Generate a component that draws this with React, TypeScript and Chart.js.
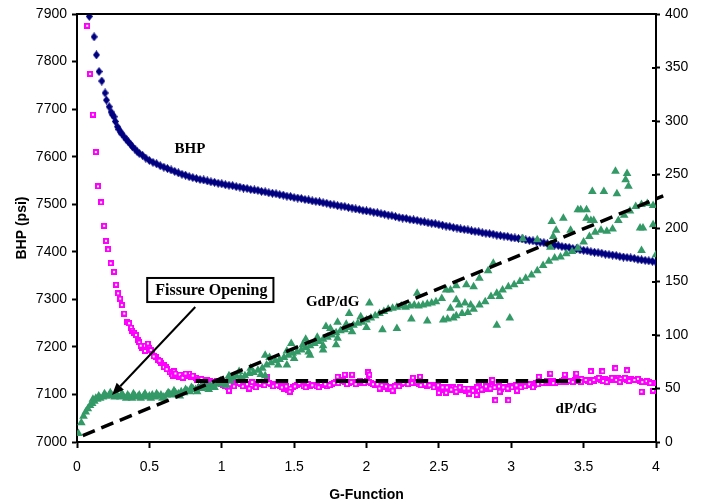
import React, { useEffect, useRef } from 'react';
import { Chart, registerables } from 'chart.js';
Chart.register(...registerables);

const xTickValues = [0, 0.5, 1, 1.5, 2, 2.5, 3, 3.5, 4];
const xTickLabels = ['0', '0.5', '1', '1.5', '2', '2.5', '3', '3.5', '4'];
const bhpTickValues = [7000, 7100, 7200, 7300, 7400, 7500, 7600, 7700, 7800, 7900];
const bhpTickLabels = ['7000', '7100', '7200', '7300', '7400', '7500', '7600', '7700', '7800', '7900'];
const rightTickValues = [0, 50, 100, 150, 200, 250, 300, 350, 400];
const rightTickLabels = ['0', '50', '100', '150', '200', '250', '300', '350', '400'];

// BHP (psi), left axis
const bhpG = [
  0.085, 0.118, 0.134, 0.152, 0.171, 0.194, 0.203, 0.222, 0.235, 0.245,
  0.256, 0.265, 0.279, 0.29, 0.3, 0.31, 0.325, 0.34, 0.355, 0.37,
  0.383, 0.4, 0.415, 0.43, 0.452, 0.475,
  0.5, 0.525, 0.55, 0.575, 0.6, 0.625, 0.65, 0.675, 0.7, 0.725,
  0.75, 0.775, 0.8, 0.825, 0.85, 0.875, 0.9, 0.925, 0.95, 0.975,
  1.0, 1.025, 1.05, 1.075, 1.1, 1.125, 1.15, 1.175, 1.2, 1.225,
  1.25, 1.275, 1.3, 1.325, 1.35, 1.375, 1.4, 1.425, 1.45, 1.475,
  1.5, 1.525, 1.55, 1.575, 1.6, 1.625, 1.65, 1.675, 1.7, 1.725,
  1.75, 1.775, 1.8, 1.825, 1.85, 1.875, 1.9, 1.925, 1.95, 1.975,
  2.0, 2.025, 2.05, 2.075, 2.1, 2.125, 2.15, 2.175, 2.2, 2.225,
  2.25, 2.275, 2.3, 2.325, 2.35, 2.375, 2.4, 2.425, 2.45, 2.475,
  2.5, 2.525, 2.55, 2.575, 2.6, 2.625, 2.65, 2.675, 2.7, 2.725,
  2.75, 2.775, 2.8, 2.825, 2.85, 2.875, 2.9, 2.925, 2.95, 2.975,
  3.0, 3.025, 3.05, 3.075, 3.1, 3.125, 3.15, 3.175, 3.2, 3.225,
  3.25, 3.275, 3.3, 3.325, 3.35, 3.375, 3.4, 3.425, 3.45, 3.475,
  3.5, 3.525, 3.55, 3.575, 3.6, 3.625, 3.65, 3.675, 3.7, 3.725,
  3.75, 3.775, 3.8, 3.825, 3.85, 3.875, 3.9, 3.925, 3.95, 3.975, 4.0,
];
const bhpP = [
  7895, 7852, 7814, 7779, 7759, 7734, 7719, 7705, 7694, 7688,
  7684, 7674, 7663, 7657, 7652, 7648, 7642, 7636, 7631, 7626,
  7621, 7616, 7611, 7607, 7603, 7597,
  7592, 7588, 7585, 7581, 7578, 7575, 7572, 7569, 7566, 7563,
  7561, 7558, 7556, 7554, 7552, 7551, 7549, 7547, 7546, 7544,
  7543, 7541, 7540, 7539, 7537, 7536, 7534, 7533, 7531, 7530,
  7529, 7527, 7526, 7524, 7523, 7522, 7520, 7519, 7517, 7516,
  7514, 7513, 7512, 7510, 7509, 7507, 7506, 7505, 7503, 7502,
  7500, 7499, 7497, 7496, 7495, 7493, 7492, 7490, 7489, 7487,
  7486, 7485, 7483, 7482, 7480, 7479, 7477, 7476, 7474, 7472,
  7471, 7470, 7468, 7467, 7466, 7464, 7463, 7461, 7460, 7459,
  7457, 7456, 7454, 7453, 7451, 7450, 7448, 7447, 7446, 7444,
  7443, 7442, 7440, 7439, 7438, 7437, 7435, 7434, 7433, 7432,
  7430, 7429, 7428, 7427, 7425, 7424, 7423, 7421, 7420, 7419,
  7417, 7416, 7414, 7413, 7411, 7410, 7409, 7407, 7406, 7404,
  7403, 7402, 7400, 7399, 7398, 7397, 7395, 7394, 7393, 7392,
  7390, 7389, 7388, 7387, 7386, 7384, 7383, 7382, 7381, 7380, 7378,
];

// dP/dG, right axis
const dpdgG = [
  0.07, 0.09, 0.11, 0.13, 0.145, 0.166, 0.187, 0.2, 0.215, 0.233,
  0.256, 0.27, 0.284, 0.298, 0.31, 0.326, 0.346, 0.36, 0.374, 0.38,
  0.395, 0.408, 0.42, 0.43, 0.45, 0.465, 0.476, 0.49, 0.5, 0.52,
  0.545, 0.56, 0.58, 0.6, 0.614, 0.64, 0.655, 0.67, 0.69, 0.705,
  0.72, 0.74, 0.76, 0.775, 0.79, 0.82, 0.845, 0.87, 0.89,
  0.44, 0.47, 0.51, 0.53, 0.57, 0.6, 0.62, 0.66, 0.68, 0.71,
  0.73, 0.75, 0.8, 0.83, 0.86, 0.88, 0.9,
  0.92, 0.95, 0.98, 1.01, 1.04, 1.07, 1.1, 1.13, 1.16, 1.19,
  1.22, 1.25, 1.28, 1.31, 1.34, 1.37, 1.4, 1.43, 1.46, 1.49,
  1.52, 1.55, 1.58, 1.61, 1.64, 1.67, 1.7, 1.73, 1.76, 1.79,
  1.82, 1.85, 1.88, 1.91, 1.94, 1.97, 2.0, 2.03, 2.06, 2.09,
  2.12, 2.15, 2.18, 2.21, 2.24, 2.27, 2.3, 2.33, 2.36, 2.39,
  2.42, 2.45, 2.48, 2.51, 2.54, 2.57, 2.6, 2.63, 2.66, 2.69,
  2.72, 2.75, 2.78, 2.81, 2.84, 2.87, 2.9, 2.93, 2.96, 2.99,
  3.02, 3.05, 3.08, 3.11, 3.14, 3.17, 3.2, 3.23, 3.26, 3.29,
  3.32, 3.35, 3.38, 3.41, 3.44, 3.47, 3.5, 3.53, 3.56, 3.59,
  3.62, 3.65, 3.68, 3.71, 3.74, 3.77, 3.8, 3.83, 3.86, 3.89,
  3.92, 3.95, 3.98,
  0.935, 0.965, 0.995, 1.025, 1.055, 1.085, 1.115, 1.145, 1.175, 1.205,
  1.235, 1.265, 1.295, 1.325, 1.355, 1.385, 1.415, 1.445, 1.475, 1.505,
  1.535, 1.565, 1.595, 1.625, 1.655, 1.685, 1.715, 1.745, 1.775, 1.805,
  1.835, 1.865, 1.895, 1.925, 1.955, 1.985, 2.015, 2.045, 2.075, 2.105,
  2.135, 2.165, 2.195, 2.225, 2.255, 2.285, 2.315, 2.345, 2.375, 2.405,
  2.435, 2.465, 2.495, 2.525, 2.555, 2.585, 2.615, 2.645, 2.675, 2.705,
  2.735, 2.765, 2.795, 2.825, 2.855, 2.885, 2.915, 2.945, 2.975, 3.005,
  3.035, 3.065, 3.095, 3.125, 3.155, 3.185, 3.215, 3.245, 3.275, 3.305,
  3.335, 3.365, 3.395, 3.425, 3.455, 3.485, 3.515, 3.545, 3.575, 3.605,
  3.635, 3.665, 3.695, 3.725, 3.755, 3.785, 3.815, 3.845, 3.875, 3.905,
  3.935, 3.965,
  0.85, 1.05, 1.12, 1.19, 1.21, 1.31, 1.38, 1.47, 1.58, 1.67,
  1.8, 1.85, 1.9, 2.01, 2.02, 2.09, 2.18, 2.32, 2.37, 2.5,
  2.55, 2.62, 2.71, 2.76, 2.78, 2.87, 2.89, 2.92, 2.98, 3.04,
  3.15, 3.19, 3.27, 3.29, 3.37, 3.45, 3.48, 3.55, 3.57, 3.63,
  3.66, 3.72, 3.75, 3.8, 3.85, 3.9, 3.96, 3.98,
];
const dpdgV = [
  389, 344, 306, 271, 239, 224, 202, 188, 180, 167,
  159, 147, 139, 134, 128, 120, 112, 111, 107, 104,
  102, 100, 95, 93, 88, 90, 86, 92, 88, 84,
  79, 77, 74, 72, 70, 65, 64, 66, 62, 61,
  62, 63, 62, 64, 61, 60, 58, 56, 57,
  90, 85, 86, 80, 76, 70, 68, 62, 64, 63,
  60, 64, 62, 58, 59, 55, 58,
  57, 56, 55, 53, 51, 53, 55, 54, 53, 51,
  52, 54, 55, 56, 54, 53, 52, 50, 49, 51,
  53, 54, 53, 52, 53, 54, 53, 52, 54, 56,
  57, 56, 55, 56, 55, 56, 57, 55, 53, 52,
  51, 50, 51, 53, 54, 55, 56, 55, 54, 53,
  52, 53, 52, 50, 49, 50, 51, 50, 49, 48,
  49, 50, 51, 50, 51, 52, 51, 50, 51, 52,
  51, 52, 53, 53, 54, 55, 56, 55, 56, 57,
  56, 57, 56, 57, 58, 57, 58, 57, 58, 59,
  58, 59, 58, 59, 60, 59, 58, 59, 58, 57,
  56, 56, 55,
  55, 57, 54, 52, 54, 52, 56, 52, 54, 53,
  51, 55, 53, 55, 52, 54, 51, 52, 50, 52,
  55, 52, 54, 53, 52, 55, 54, 53, 55, 55,
  58, 54, 56, 54, 57, 55, 56, 54, 54, 53,
  52, 51, 52, 52, 55, 54, 55, 56, 53, 54,
  53, 51, 53, 51, 51, 49, 50, 51, 50, 50,
  48, 51, 49, 52, 50, 51, 52, 51, 50, 51,
  53, 51, 52, 54, 53, 54, 55, 57, 55, 55,
  56, 58, 57, 56, 57, 59, 58, 56, 57, 60,
  57, 58, 60, 58, 59, 60, 57, 58, 59, 56,
  57, 55,
  51, 48, 55, 50, 56, 61, 53, 47, 51, 51,
  61, 63, 63, 65, 63, 50, 48, 60, 61, 46,
  46, 47, 45, 44, 56, 58, 39, 47, 39, 48,
  51, 61, 64, 55, 63, 64, 56, 66, 58, 66,
  56, 69, 56, 67, 58, 47, 55, 48,
];

// GdP/dG, right axis
const gdpdgG = [
  0.01, 0.03, 0.045, 0.06, 0.075, 0.09, 0.105, 0.12, 0.14, 0.16,
  0.18, 0.2, 0.22, 0.24, 0.26, 0.28, 0.3, 0.32, 0.34, 0.36,
  0.38, 0.4, 0.42, 0.44, 0.46, 0.48, 0.5, 0.52, 0.54, 0.56,
  0.58, 0.6, 0.62, 0.64, 0.66, 0.68, 0.7, 0.72, 0.74, 0.76,
  0.78, 0.8, 0.82, 0.84, 0.86, 0.88, 0.9, 0.92, 0.94, 0.96,
  0.98, 1.0, 1.02, 1.04, 1.06, 1.08, 1.1, 1.13, 1.16, 1.19,
  1.22, 1.25, 1.28, 1.31, 1.34, 1.37, 1.4, 1.43, 1.46, 1.49,
  1.52, 1.55, 1.58, 1.61, 1.64, 1.67, 1.7, 1.73, 1.76, 1.79,
  1.82, 1.85, 1.88, 1.91, 1.94, 1.97, 2.0, 2.03, 2.06,
  0.11, 0.13, 0.15, 0.19, 0.23, 0.27, 0.31, 0.35, 0.39, 0.43,
  0.47, 0.51, 0.55, 0.59, 0.63, 0.67, 0.71, 0.75, 0.79, 0.83,
  0.87, 0.91, 0.95, 0.99, 1.03,
  1.05, 1.15, 1.2, 1.27, 1.33, 1.39, 1.45, 1.5, 1.56, 1.6,
  1.66, 1.7, 1.75, 1.8, 1.86, 1.9, 1.96, 2.0,
  1.12, 1.3, 1.48, 1.58, 1.72, 1.8, 1.88, 2.02,
  1.3, 1.45, 1.61, 1.7, 1.79,
  2.09, 2.12, 2.15, 2.18, 2.21, 2.24, 2.27, 2.3, 2.33, 2.36,
  2.39, 2.42, 2.45, 2.48, 2.35, 2.52, 2.55, 2.58, 2.62, 2.62,
  2.69, 2.74, 2.78, 2.84, 2.876,
  2.11, 2.21, 2.31, 2.42, 2.53,
  2.56, 2.6, 2.62, 2.66, 2.7, 2.74, 2.78, 2.82, 2.86, 2.9,
  2.94, 2.98, 3.02, 3.06, 3.1, 3.14, 3.18, 3.22, 3.26, 3.3,
  3.34, 3.38, 3.42, 3.46, 3.5, 3.54, 3.58, 3.62, 3.66, 3.7,
  3.74, 3.78, 3.82, 3.86, 3.9, 3.94, 3.98,
  2.58, 2.64, 2.68, 2.72,
  3.08, 3.18, 3.27, 3.28, 3.29, 3.31, 3.36, 3.41, 3.46, 3.48,
  3.52, 3.52, 3.55, 3.57, 3.56, 3.64, 3.73, 3.72, 3.8, 3.79,
  3.81, 3.89, 3.91, 3.98, 3.9, 4.0, 2.9, 2.99, 2.92,
];
const gdpdgV = [
  8, 18, 24, 28, 31, 34, 36, 38, 40, 41,
  42, 43, 43, 44, 42, 43, 42, 43, 41, 42,
  41, 43, 42, 41, 43, 42, 43, 44, 42, 43,
  44, 42, 44, 45, 44, 46, 45, 47, 46, 48,
  47, 50, 49, 51, 50, 52, 51, 53, 52, 55,
  54, 56, 55, 58, 57, 60, 62, 60, 62, 64,
  65, 67, 69, 72, 74, 76, 77, 79, 81, 83,
  84, 86, 88, 90, 92, 94, 96, 98, 100, 102,
  104, 105, 107, 109, 111, 112, 114, 116, 118,
  40, 41, 43, 45, 46, 45, 45, 44, 45, 44,
  45, 41, 45, 41, 46, 48, 43, 49, 51, 47,
  54, 49, 51, 57, 53,
  62, 58, 69, 63, 79, 72, 85, 78, 91, 84,
  98, 90, 106, 97, 110, 103, 117, 107,
  66, 81, 92, 96, 108, 112, 120, 130,
  62, 72, 81, 86, 91,
  120, 122, 124, 125, 126, 127, 126, 127, 128, 127,
  128, 129, 130, 131, 139, 134, 142, 142, 146, 133,
  147, 145, 153, 160, 167,
  105, 106, 115, 113, 114,
  115, 116, 118, 120, 121, 124, 128, 131, 136, 139,
  142, 145, 147, 150, 153, 156, 160, 165, 169, 172,
  173, 176, 178, 181, 187, 192, 196, 198, 197, 199,
  207, 212, 216, 220, 222, 223, 221,
  125, 128, 130, 128,
  190, 189, 182, 206, 192, 198, 209, 198, 217, 217,
  217, 209, 207, 207, 234, 234, 232, 253, 251, 245,
  239, 200, 200, 203, 179, 175, 109, 116, 136,
];

// dashed reference lines, right axis
const trendG = [0.04, 4.05];
const trendV = [6, 230];
const flatG = [0.82, 3.48];
const flatV = [57, 57];

const toPoints = (g: number[], v: number[]) => g.map((x, i) => ({ x, y: v[i] }));

function makeDiamond(): HTMLCanvasElement {
  const c = document.createElement('canvas');
  c.width = 7;
  c.height = 9;
  const ctx = c.getContext('2d')!;
  ctx.fillStyle = '#000080';
  ctx.beginPath();
  ctx.moveTo(3.5, 0);
  ctx.lineTo(7, 4.5);
  ctx.lineTo(3.5, 9);
  ctx.lineTo(0, 4.5);
  ctx.closePath();
  ctx.fill();
  return c;
}

function makeSquare(): HTMLCanvasElement {
  const c = document.createElement('canvas');
  c.width = 6;
  c.height = 6;
  const ctx = c.getContext('2d')!;
  ctx.fillStyle = '#ff00ff';
  ctx.fillRect(0, 0, 6, 6);
  ctx.fillStyle = '#ffffff';
  ctx.fillRect(2, 2, 2, 2);
  return c;
}

const annotationPlugin = {
  id: 'annotations',
  afterDatasetsDraw(chart: any) {
    const { ctx, chartArea, scales } = chart;
    const sx = scales.x;
    const sy = scales.y;
    const sy1 = scales.y1;
    ctx.save();
    ctx.strokeStyle = '#000';
    ctx.lineWidth = 2;
    ctx.beginPath();
    ctx.moveTo(chartArea.left - 1, chartArea.top);
    ctx.lineTo(chartArea.right + 1, chartArea.top);
    ctx.stroke();
    rightTickValues.forEach((v) => {
      const py = Math.round(sy1.getPixelForValue(v));
      ctx.beginPath();
      ctx.moveTo(chartArea.right - 4, py);
      ctx.lineTo(chartArea.right, py);
      ctx.stroke();
    });
    ctx.fillStyle = '#000';
    ctx.textAlign = 'center';
    ctx.textBaseline = 'middle';
    ctx.font = 'bold 15px "Liberation Serif"';
    ctx.fillText('BHP', sx.getPixelForValue(0.78), sy.getPixelForValue(7616));
    ctx.fillText('GdP/dG', sx.getPixelForValue(1.766), sy1.getPixelForValue(131));
    ctx.fillText('dP/dG', sx.getPixelForValue(3.45), sy1.getPixelForValue(31));
    const bx0 = sx.getPixelForValue(0.485);
    const bx1 = sx.getPixelForValue(1.357);
    const by0 = sy1.getPixelForValue(153.3);
    const by1 = sy1.getPixelForValue(130.8);
    ctx.fillStyle = '#fff';
    ctx.fillRect(bx0, by0, bx1 - bx0, by1 - by0);
    ctx.lineWidth = 2;
    ctx.strokeRect(bx0, by0, bx1 - bx0, by1 - by0);
    ctx.fillStyle = '#000';
    ctx.font = 'bold 16px "Liberation Serif"';
    ctx.fillText('Fissure Opening', (bx0 + bx1) / 2 + 1, (by0 + by1) / 2 + 1);
    const ax0 = sx.getPixelForValue(0.817);
    const ay0 = sy1.getPixelForValue(126.2);
    const ax1 = sx.getPixelForValue(0.242);
    const ay1 = sy1.getPixelForValue(43.9);
    const ang = Math.atan2(ay1 - ay0, ax1 - ax0);
    const headL = 12;
    const headW = 5;
    const bxh = ax1 - headL * Math.cos(ang);
    const byh = ay1 - headL * Math.sin(ang);
    ctx.lineWidth = 2;
    ctx.beginPath();
    ctx.moveTo(ax0, ay0);
    ctx.lineTo(bxh, byh);
    ctx.stroke();
    ctx.beginPath();
    ctx.moveTo(ax1, ay1);
    ctx.lineTo(bxh + headW * Math.sin(ang), byh - headW * Math.cos(ang));
    ctx.lineTo(bxh - headW * Math.sin(ang), byh + headW * Math.cos(ang));
    ctx.closePath();
    ctx.fill();
    ctx.restore();
  },
};

const tickFont = { family: '"Liberation Sans", Arial, sans-serif', size: 14 };
const titleFont = { family: '"Liberation Sans", Arial, sans-serif', size: 14, weight: 'bold' as const };

export default function App() {
  const ref = useRef<HTMLCanvasElement | null>(null);
  useEffect(() => {
    document.body.style.margin = '0';
    if (!ref.current) return;
    const diamond = makeDiamond();
    const square = makeSquare();
    const chart = new Chart(ref.current, {
      type: 'scatter',
      data: {
        datasets: [
          {
            type: 'line',
            label: 'trend',
            data: toPoints(trendG, trendV),
            yAxisID: 'y1',
            borderColor: '#000',
            borderWidth: 3.5,
            borderDash: [13, 7],
            pointRadius: 0,
            clip: 8,
          } as any,
          {
            type: 'line',
            label: 'flat',
            data: toPoints(flatG, flatV),
            yAxisID: 'y1',
            borderColor: '#000',
            borderWidth: 4,
            borderDash: [12.5, 7.5],
            pointRadius: 0,
          } as any,
          {
            label: 'GdP/dG',
            data: toPoints(gdpdgG, gdpdgV),
            yAxisID: 'y1',
            pointStyle: 'triangle',
            pointRadius: 5,
            backgroundColor: '#339966',
            borderColor: '#339966',
            borderWidth: 0,
          },
          {
            label: 'dP/dG',
            data: toPoints(dpdgG, dpdgV),
            yAxisID: 'y1',
            pointStyle: square,
            pointRadius: 3,
            backgroundColor: '#ff00ff',
            borderColor: '#ff00ff',
          },
          {
            label: 'BHP',
            data: toPoints(bhpG, bhpP),
            yAxisID: 'y',
            pointStyle: diamond,
            pointRadius: 4,
            backgroundColor: '#000080',
            borderColor: '#000080',
          },
        ],
      },
      options: {
        animation: false,
        responsive: false,
        devicePixelRatio: 1,
        layout: { padding: { top: 14, left: 0, right: 0, bottom: 0 } },
        plugins: { legend: { display: false }, tooltip: { enabled: false } },
        scales: {
          x: {
            type: 'linear',
            position: 'bottom',
            min: 0,
            max: 4,
            afterBuildTicks: (s: any) => { s.ticks = xTickValues.map((value) => ({ value })); },
            afterFit: (s: any) => { s.height = 62; },
            ticks: {
              font: tickFont,
              color: '#000',
              padding: 11,
              maxRotation: 0,
              autoSkip: false,
              callback: (_v: any, i: number) => xTickLabels[i],
            },
            grid: { drawOnChartArea: false, drawTicks: true, tickLength: 6, tickColor: '#000', tickWidth: 2 },
            border: { display: true, color: '#000', width: 2 },
            title: { display: true, text: 'G-Function', font: titleFont, color: '#000', padding: { top: 0, bottom: 0 } },
          },
          y: {
            type: 'linear',
            position: 'left',
            min: 7000,
            max: 7900,
            afterBuildTicks: (s: any) => { s.ticks = bhpTickValues.map((value) => ({ value })); },
            afterFit: (s: any) => { s.width = 77; },
            ticks: {
              font: tickFont,
              color: '#000',
              padding: 5,
              autoSkip: false,
              callback: (_v: any, i: number) => bhpTickLabels[i],
            },
            grid: { drawOnChartArea: false, drawTicks: true, tickLength: 5, tickColor: '#000', tickWidth: 2 },
            border: { display: true, color: '#000', width: 2 },
            title: { display: true, text: 'BHP (psi)', font: titleFont, color: '#000', padding: { top: 14, bottom: 0 } },
          },
          y1: {
            type: 'linear',
            position: 'right',
            min: 0,
            max: 400,
            afterBuildTicks: (s: any) => { s.ticks = rightTickValues.map((value) => ({ value })); },
            afterFit: (s: any) => { s.width = 54; },
            ticks: {
              font: tickFont,
              color: '#000',
              padding: 5,
              autoSkip: false,
              callback: (_v: any, i: number) => rightTickLabels[i],
            },
            grid: { drawOnChartArea: false, drawTicks: true, tickLength: 4, tickColor: '#000', tickWidth: 2 },
            border: { display: true, color: '#000', width: 2 },
          },
        },
      },
      plugins: [annotationPlugin],
    } as any);
    return () => chart.destroy();
  }, []);
  return (
    <div style={{ width: 710, height: 504 }}>
      <canvas ref={ref} width={710} height={504} style={{ display: 'block' }} />
    </div>
  );
}
